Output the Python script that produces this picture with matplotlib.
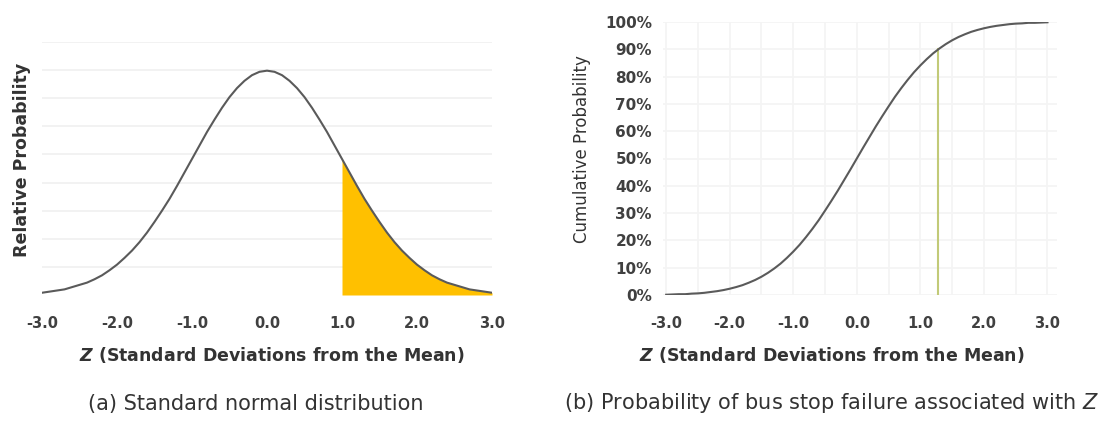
import numpy as np
import matplotlib
matplotlib.use('Agg')
import matplotlib.pyplot as plt
from matplotlib.ticker import PercentFormatter

plt.rcParams['font.family'] = ['DejaVu Sans']
plt.rcParams['mathtext.fontset'] = 'custom'
plt.rcParams['mathtext.it'] = 'DejaVu Sans:italic'
plt.rcParams['mathtext.bfit'] = 'DejaVu Sans:italic:bold'
plt.rcParams['mathtext.rm'] = 'DejaVu Sans'

# z from -3.0 to 3.0 in steps of 0.1
z = np.round(np.linspace(-3.0, 3.0, 61), 1)
rel_prob = [0.004, 0.006, 0.008, 0.010, 0.014, 0.018, 0.022, 0.028, 0.035, 0.044,
            0.054, 0.066, 0.079, 0.094, 0.111, 0.130, 0.150, 0.171, 0.194, 0.218,
            0.242, 0.266, 0.290, 0.312, 0.333, 0.352, 0.368, 0.381, 0.391, 0.397,
            0.399,
            0.397, 0.391, 0.381, 0.368, 0.352, 0.333, 0.312, 0.290, 0.266, 0.242,
            0.218, 0.194, 0.171, 0.150, 0.130, 0.111, 0.094, 0.079, 0.066, 0.054,
            0.044, 0.035, 0.028, 0.022, 0.018, 0.014, 0.010, 0.008, 0.006, 0.004]
cum_prob = [0.001, 0.002, 0.003, 0.003, 0.005, 0.006, 0.008, 0.011, 0.014, 0.018,
            0.023, 0.029, 0.036, 0.045, 0.055, 0.067, 0.081, 0.097, 0.115, 0.136,
            0.159, 0.184, 0.212, 0.242, 0.274, 0.309, 0.345, 0.382, 0.421, 0.460,
            0.500,
            0.540, 0.579, 0.618, 0.655, 0.691, 0.726, 0.758, 0.788, 0.816, 0.841,
            0.864, 0.885, 0.903, 0.919, 0.933, 0.945, 0.955, 0.964, 0.971, 0.977,
            0.982, 0.986, 0.989, 0.992, 0.994, 0.995, 0.997, 0.997, 0.998, 0.999]
z_shade_from = 1.0
z_fail = 1.28
p_fail = 0.90
xticks = [-3.0, -2.0, -1.0, 0.0, 1.0, 2.0, 3.0]

rel_arr = np.array(rel_prob)

W, H = 1113, 421
fig = plt.figure(figsize=(W / 100, H / 100), dpi=100)
ax1 = fig.add_axes([42 / W, 1 - 295 / H, (492 - 42) / W, (295 - 42) / H])
ax2 = fig.add_axes([663 / W, 1 - 295 / H, (1057 - 663) / W, (295 - 22) / H])

line_col = '#5a5a5a'
tick_col = '#404040'
text_col = '#333333'

# (a) normal curve
ax1.plot(z, rel_prob, color=line_col, lw=1.5, zorder=3)
mask = z >= z_shade_from
ax1.fill_between(z[mask], 0, rel_arr[mask], color='#FFC000', lw=0, zorder=2)
ax1.set_xlim(-3, 3)
ax1.set_ylim(0, 0.45)
ax1.set_yticks(np.arange(0.05, 0.46, 0.05))
ax1.set_yticklabels([])
ax1.tick_params(axis='y', length=0)
ax1.grid(axis='y', color='#f0f0f0', lw=1.2, zorder=0)
ax1.set_ylabel('Relative Probability', fontsize=12.5, fontweight='bold', color=text_col, va='center')
ax1.yaxis.set_label_coords(22 / W, 1 - 160 / H, transform=fig.transFigure)

# (b) cumulative curve
ax2.plot(z, cum_prob, color=line_col, lw=1.5, zorder=3)
ax2.plot([z_fail, z_fail], [0, p_fail], color='#c2ca78', lw=1.5, zorder=2)
ax2.set_xlim(-3.05, 3.15)
ax2.set_ylim(0, 1.0)
ax2.set_yticks(np.arange(0, 1.01, 0.1))
ax2.yaxis.set_major_formatter(PercentFormatter(1.0, decimals=0))
ax2.set_xticks(np.arange(-3, 3.01, 0.5), minor=True)
ax2.grid(which='both', color='#f4f4f4', lw=1.2, zorder=0)
ax2.tick_params(axis='y', length=0, labelsize=11, labelcolor=tick_col, pad=8)
for lab in ax2.get_yticklabels():
    lab.set_fontweight('bold')
ax2.set_ylabel('Cumulative Probability', fontsize=12, color=text_col, va='center')
ax2.yaxis.set_label_coords(582 / W, 1 - 149 / H, transform=fig.transFigure)

for ax, xc in ((ax1, 272), (ax2, 832)):
    ax.set_xticks(xticks)
    ax.set_xticklabels(['%.1f' % t for t in xticks], fontweight='bold')
    ax.tick_params(axis='x', length=0, labelsize=10.5, labelcolor=tick_col, pad=15)
    ax.tick_params(axis='x', which='minor', length=0)
    for s in ax.spines.values():
        s.set_visible(False)
    ax.set_xlabel(r'$\mathbfit{Z}$ (Standard Deviations from the Mean)', fontsize=12.5,
                  fontweight='bold', color=text_col, va='center')
    ax.xaxis.set_label_coords(xc / W, 1 - 355 / H, transform=fig.transFigure)

fig.text(256 / W, 1 - 404 / H, '(a) Standard normal distribution', fontsize=15,
         color=text_col, ha='center', va='center')
fig.text(832 / W, 1 - 403 / H, '(b) Probability of bus stop failure associated with $Z$',
         fontsize=15, color=text_col, ha='center', va='center')

fig.savefig('out.png', dpi=100)
